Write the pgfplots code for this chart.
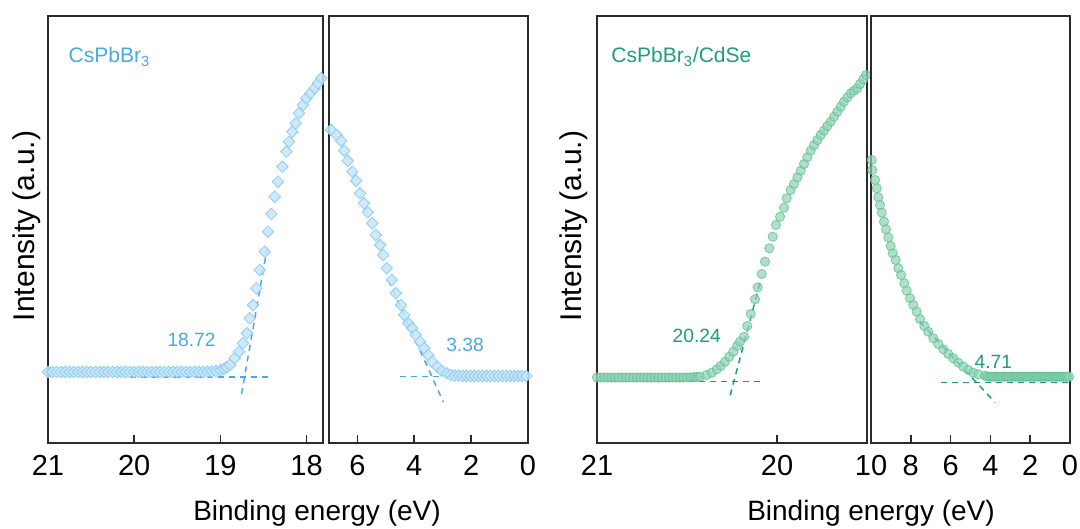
\documentclass[border=0pt]{standalone}
\usepackage{fontspec}
\setmainfont{Liberation Sans}
\usepackage{pgfplots}
\pgfplotsset{compat=1.18}
\definecolor{bluefill}{HTML}{C6E5FA}
\definecolor{blueedge}{HTML}{8FCDF2}
\definecolor{bluetext}{HTML}{4AA9E3}
\definecolor{greenfill}{HTML}{8ED3B3}
\definecolor{greenedge}{HTML}{5FBF95}
\definecolor{greentext}{HTML}{1E9E76}
\definecolor{frame}{HTML}{2B2B2B}
\tikzset{numlab/.style={font=\fontsize{9.6}{11}\selectfont, inner sep=0pt}}
\pgfplotsset{
  subax/.style={scale only axis, height=213.5pt, ymin=0, ymax=427, ytick=\empty,
    x dir=reverse, anchor=south west,
    axis line style={frame, line width=0.9pt},
    tick style={frame, line width=0.8pt}, xtick pos=left, tick align=inside,
    major tick length=3.8pt,
    /pgf/number format/assume math mode=true,
    xticklabel style={font=\fontsize{14.5}{16}\selectfont, anchor=base, yshift=-16.5pt, inner sep=0pt}},
  bluemk/.style={only marks, mark=square*, mark size=2.05pt,
    mark options={rotate=45, fill=bluefill, draw=blueedge, line width=0.4pt, fill opacity=0.85}},
  greenmk/.style={only marks, mark=*, mark size=2.3pt,
    mark options={fill=greenfill, draw=greenedge, line width=0.4pt, fill opacity=0.7, draw opacity=0.8}},
  bdash/.style={bluetext, line width=0.75pt, dash pattern=on 3pt off 2.5pt, no marks},
  gdash/.style={greentext, line width=0.75pt, dash pattern=on 3pt off 2.5pt, no marks},
}
\begin{document}
\begin{tikzpicture}
\path[use as bounding box] (0,0) rectangle (540pt,264.5pt);
% ---------------- Left panel, high binding energy part
\begin{axis}[subax, at={(24pt,43pt)}, width=137.5pt, xmin=17.81, xmax=21, xtick={18,19,20,21}]
\addplot[bluemk] coordinates {
(21.00,71) (20.95,71) (20.90,71) (20.85,71) (20.80,71) (20.75,71) (20.70,71) (20.65,71)
(20.60,71) (20.55,71) (20.50,71) (20.45,71) (20.40,71) (20.35,71) (20.30,71) (20.25,71)
(20.20,71) (20.15,71) (20.10,71) (20.05,71) (20.00,71) (19.95,71) (19.90,71) (19.85,71)
(19.80,71) (19.75,71) (19.70,71) (19.65,71) (19.60,71) (19.55,71) (19.50,71) (19.45,71)
(19.40,71) (19.35,71) (19.30,71) (19.25,71) (19.20,71) (19.15,71.2) (19.10,71.5) (19.05,72)
(19.00,72.8) (18.96,74) (18.93,75.8)
(18.89,78) (18.834,85) (18.784,91.3) (18.738,99.7) (18.691,109.7) (18.660,124.7) (18.622,138)
(18.583,154.7) (18.544,173) (18.486,191.3) (18.448,211.3) (18.409,229) (18.370,246.3)
(18.332,261.3) (18.281,276.3) (18.235,291.3) (18.205,301.3) (18.166,311.3) (18.127,319.7)
(18.089,329.7) (18.043,338) (18.003,344.7) (17.957,349.7) (17.907,354.7) (17.869,359.7) (17.830,364.7)
};
\addplot[bdash] coordinates {(20.05,66) (18.405,66)};
\addplot[bdash] coordinates {(18.755,49) (18.46,194)};
\node[numlab, text=bluetext] at (axis cs:19.335,103) {18.72};
\node[anchor=base west, inner sep=0pt, text=bluetext, font=\fontsize{10.5}{12}\selectfont] at (axis cs:20.765,380) {CsPbBr\textsubscript{3}};
\end{axis}
% ---------------- Left panel, valence band part
\begin{axis}[subax, at={(164.5pt,43pt)}, width=99.5pt, xmin=0, xmax=7, xtick={0,2,4,6}]
\addplot[bluemk] coordinates {
(6.93,313) (6.729,308) (6.578,302.3) (6.462,292.3) (6.342,282.3) (6.18,271.3) (6.05,262.3)
(5.91,249.7) (5.769,239.7) (5.639,230.7) (5.477,219.7) (5.357,208) (5.206,198) (5.09,188)
(4.97,174.7) (4.795,163) (4.654,149.7) (4.467,138) (4.351,128) (4.211,119.7) (4.07,114.7)
(3.95,108) (3.799,101.3) (3.648,94.7) (3.507,88) (3.367,81.3) (3.191,76.3) (3.036,72.3) (2.86,69.7)
(2.72,68) (2.58,67.5) (2.44,67.3) (2.30,67.2) (2.16,67) (2.02,67) (1.88,67) (1.74,67) (1.60,67)
(1.46,67) (1.32,67) (1.18,67) (1.04,67) (0.90,67) (0.76,67) (0.62,67) (0.48,67) (0.34,67) (0.20,67) (0.06,67)
};
\addplot[bdash] coordinates {(4.503,66.3) (0,66.3)};
\addplot[bdash] coordinates {(4.914,162.8) (2.98,41.1)};
\node[numlab, text=bluetext] at (axis cs:2.216,98) {3.38};
\end{axis}
% ---------------- Right panel, high binding energy part
\begin{axis}[subax, at={(298.5pt,43pt)}, width=135pt, xmin=19.5, xmax=21, xtick={20,21}]
\addplot[greenmk] coordinates {
(21.00,65.5) (20.98,65.5) (20.96,65.5) (20.94,65.5) (20.92,65.5) (20.90,65.5) (20.88,65.5)
(20.86,65.5) (20.84,65.5) (20.82,65.5) (20.80,65.5) (20.78,65.5) (20.76,65.5) (20.74,65.5)
(20.72,65.5) (20.70,65.5) (20.68,65.5) (20.66,65.5) (20.64,65.5) (20.62,65.5) (20.60,65.5)
(20.58,65.5) (20.56,65.5) (20.54,65.5) (20.52,65.5) (20.50,65.6) (20.48,65.7) (20.46,65.9) (20.445,66)
(20.428,66.3) (20.391,68) (20.363,70.3) (20.335,73.7) (20.313,77) (20.289,81.3) (20.265,86.3)
(20.243,91.3) (20.221,97) (20.206,101.3) (20.183,106.3) (20.165,117) (20.146,129) (20.122,143.7)
(20.107,155.7) (20.085,169) (20.067,181.3) (20.043,194.7) (20.024,206.3) (20.006,218) (19.983,226.3)
(19.961,235.3) (19.946,244.7) (19.924,253) (19.906,259) (19.887,265.7) (19.868,272.3) (19.850,279)
(19.832,285.7) (19.813,292.3) (19.794,298) (19.776,303) (19.757,308) (19.739,312.3) (19.721,317)
(19.702,321.3) (19.683,326.3) (19.665,331.3) (19.646,336.3) (19.628,341.3) (19.609,345.7)
(19.591,349.7) (19.572,352.3) (19.554,354.7) (19.539,359) (19.521,363.7) (19.505,368)
};
\addplot[gdash] coordinates {(20.92,61.3) (20.078,61.3)};
\addplot[gdash] coordinates {(20.26,47.7) (20.09,163.3)};
\node[numlab, text=greentext] at (axis cs:20.446,107) {20.24};
\node[anchor=base west, inner sep=0pt, text=greentext, font=\fontsize{10.5}{12}\selectfont] at (axis cs:20.922,380) {CsPbBr\textsubscript{3}/CdSe};
\end{axis}
% ---------------- Right panel, valence band part
\begin{axis}[subax, at={(435.5pt,43pt)}, width=99.5pt, xmin=0, xmax=10, xtick={0,2,4,6,8,10}]
\addplot[greenmk] coordinates {
(9.965,283) (9.935,273) (9.799,263) (9.714,254.7) (9.633,245.7) (9.548,238) (9.462,230.3)
(9.347,221.3) (9.246,213.7) (9.131,205.7) (9.010,197) (8.910,189.7) (8.759,183) (8.628,174.7)
(8.492,168) (8.327,159.7) (8.206,152.3) (8.040,144.7) (7.874,138) (7.704,131.3) (7.538,124)
(7.322,117) (7.121,111.3) (6.869,104.7) (6.618,99) (6.367,93.7) (6.116,89) (5.864,84.7)
(5.613,80.3) (5.362,76.3) (5.111,73) (4.859,70.3) (4.608,68.7) (4.271,67.3)
(4.15,66.3) (4.05,66.3) (3.95,66.3) (3.85,66.3) (3.75,66.3) (3.65,66.3) (3.55,66.3) (3.45,66.3)
(3.35,66.3) (3.25,66.3) (3.15,66.3) (3.05,66.3) (2.95,66.3) (2.85,66.3) (2.75,66.3) (2.65,66.3)
(2.55,66.3) (2.45,66.3) (2.35,66.3) (2.25,66.3) (2.15,66.3) (2.05,66.3) (1.95,66.3) (1.85,66.3)
(1.75,66.3) (1.65,66.3) (1.55,66.3) (1.45,66.3) (1.35,66.3) (1.25,66.3) (1.15,66.3) (1.05,66.3)
(0.95,66.3) (0.85,66.3) (0.75,66.3) (0.65,66.3) (0.55,66.3) (0.45,66.3) (0.35,66.3) (0.25,66.3)
(0.15,66.3) (0.05,66.3)
};
\addplot[gdash] coordinates {(6.48,60.7) (0,60.7)};
\addplot[gdash] coordinates {(7.55,121.5) (3.77,40.6)};
\node[numlab, text=greentext] at (axis cs:3.854,81.3) {4.71};
\end{axis}
% ---------------- axis titles
\node[rotate=90, font=\fontsize{15}{18}\selectfont] at (13.4pt,151.5pt) {Intensity (a.u.)};
\node[rotate=90, font=\fontsize{15}{18}\selectfont] at (286.9pt,151.5pt) {Intensity (a.u.)};
\node[anchor=base, inner sep=0pt, font=\fontsize{14}{16}\selectfont] at (158.5pt,4.2pt) {Binding energy (eV)};
\node[anchor=base, inner sep=0pt, font=\fontsize{14}{16}\selectfont] at (435.5pt,4.2pt) {Binding energy (eV)};
\end{tikzpicture}
\end{document}
